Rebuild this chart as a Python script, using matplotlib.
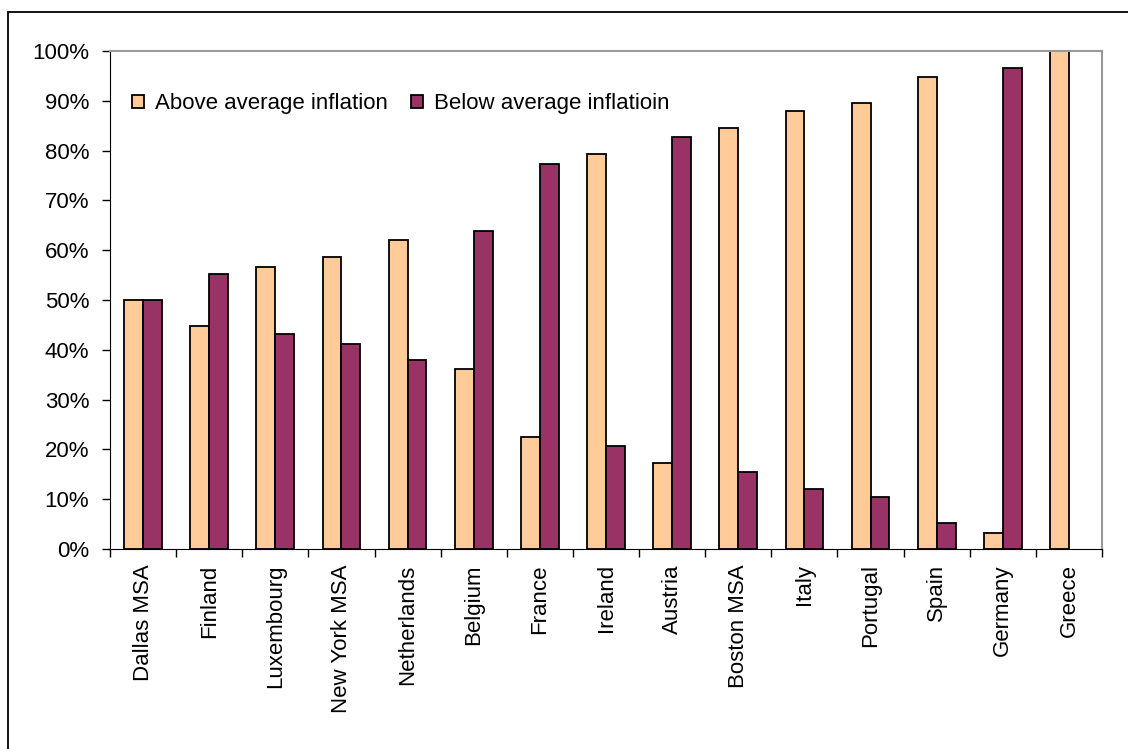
import numpy as np
import matplotlib.pyplot as plt
from matplotlib.patches import Rectangle
from matplotlib.ticker import FixedLocator

# Datos
paises = ['Dallas MSA', 'Finland', 'Luxembourg', 'New York MSA', 'Netherlands',
          'Belgium', 'France', 'Ireland', 'Austria', 'Boston MSA', 'Italy',
          'Portugal', 'Spain', 'Germany', 'Greece']
arriba = [50.0, 44.7, 56.7, 58.6, 62.0, 36.1, 22.5, 79.3, 17.3, 84.6, 88.0,
          89.5, 94.7, 3.3, 100.0]
abajo = [50.0, 55.3, 43.2, 41.2, 37.9, 63.9, 77.4, 20.6, 82.7, 15.4, 12.0,
         10.5, 5.2, 96.6, 0.0]
yticks = [0, 10, 20, 30, 40, 50, 60, 70, 80, 90, 100]

plt.rcParams['font.family'] = ['Liberation Sans', 'DejaVu Sans']

fig = plt.figure(figsize=(11.28, 7.49), dpi=100)
ax = fig.add_axes([110/1128, 1-549/749, 992/1128, 498/749])

# marco exterior
fig.patches.append(Rectangle((8/1128, -0.05), 1.1, 1-12/749+0.05, transform=fig.transFigure,
                             fill=False, edgecolor='black', linewidth=1.3))

x = np.arange(len(paises))
w = 0.2857
b1 = ax.bar(x - w/2, arriba, w, color='#FFCC99', edgecolor='black', linewidth=1.3,
            label='Above average inflation', clip_on=False)
b2 = ax.bar(x + w/2, abajo, w, color='#993366', edgecolor='black', linewidth=1.3,
            label='Below average inflatioin', clip_on=False)
for r in list(b1) + list(b2):
    if r.get_height() == 0:
        r.set_visible(False)

ax.set_xlim(-0.5, len(paises) - 0.5)
ax.set_ylim(0, 100)
ax.set_yticks(yticks)
ax.set_yticklabels([f'{v}%' for v in yticks], fontsize=16)
ax.set_xticks(np.arange(len(paises) + 1) - 0.5)
ax.set_xticklabels([])
ax.xaxis.set_minor_locator(FixedLocator(x))
ax.set_xticklabels(paises, minor=True, rotation=90, fontsize=16)
ax.tick_params(axis='x', which='minor', length=0, pad=11)
ax.tick_params(axis='x', which='major', length=6, width=1, direction='out')
ax.tick_params(axis='y', length=6, width=1, pad=9)

ax.spines['left'].set_color('black')
ax.spines['bottom'].set_color('black')
ax.spines['top'].set_color('#999999')
ax.spines['right'].set_color('#999999')
ax.spines['top'].set_linewidth(1.5)
ax.spines['right'].set_linewidth(1.5)

ax.legend(loc='upper left', bbox_to_anchor=(121/1128, 1-82/749), bbox_transform=fig.transFigure,
          ncol=2, frameon=False, fontsize=16, borderpad=0, handlelength=0.55,
          handleheight=0.55, handletextpad=0.5, columnspacing=1.0)

fig.savefig('out.png', dpi=100)
